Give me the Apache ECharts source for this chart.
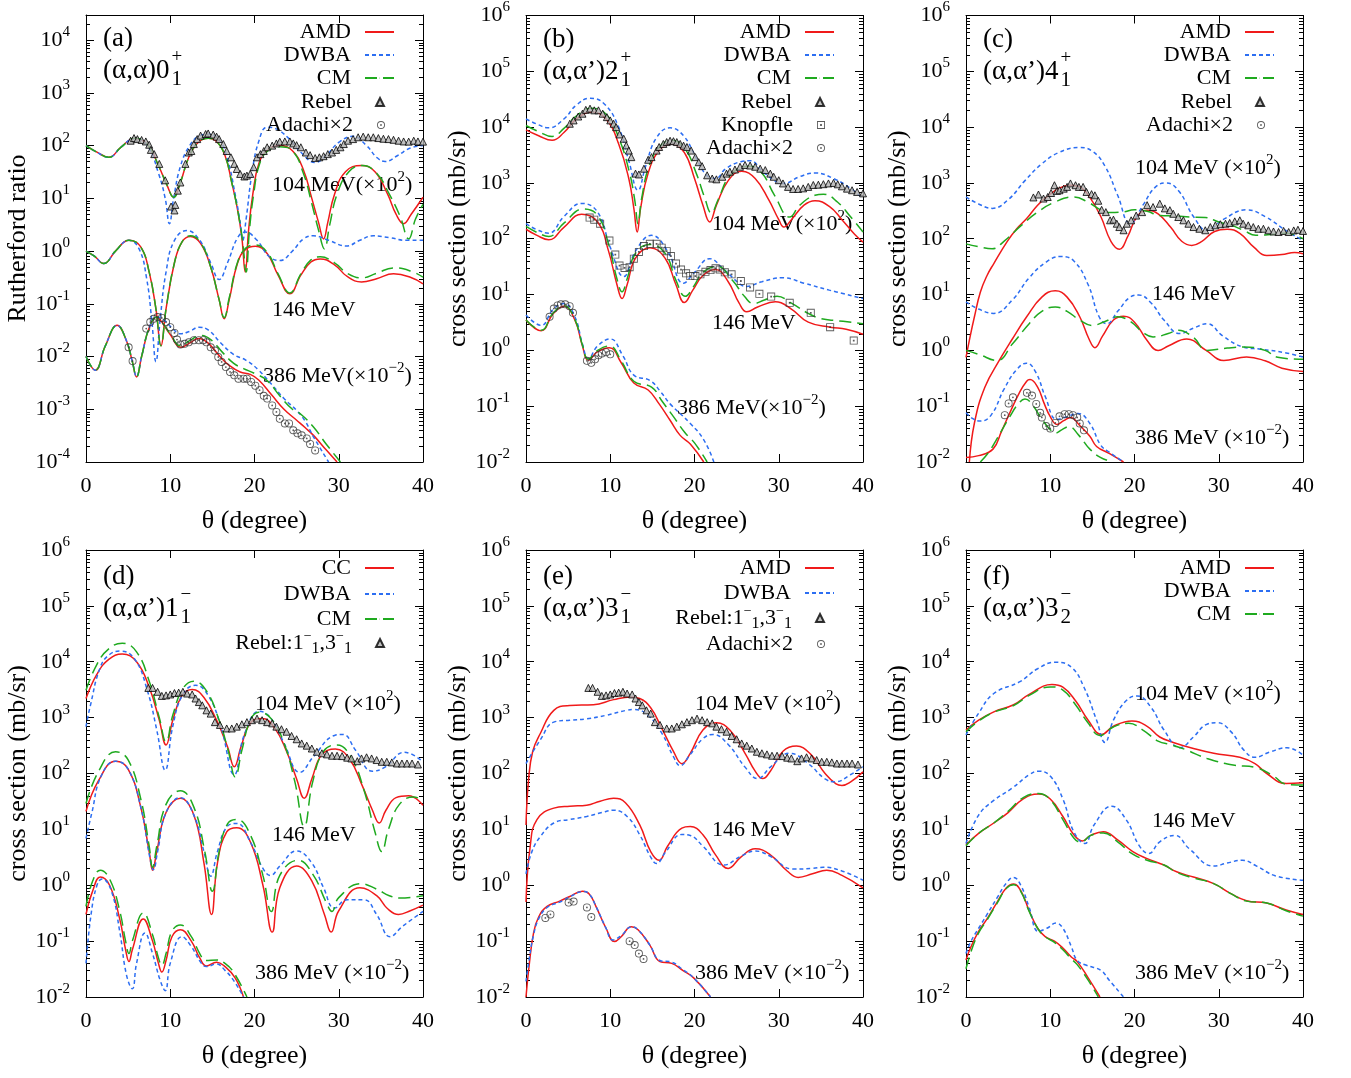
<!DOCTYPE html>
<html>
<head>
<meta charset="utf-8">
<script src="https://cdn.jsdelivr.net/npm/echarts@6/dist/echarts.min.js"></script>
<style>
html, body { margin: 0; padding: 0; background: #fff; }
#main { width: 1351px; height: 1078px; }
</style>
</head>
<body>
<div id="main"></div>
<script>
// ---- data: [theta (deg), value] ----
// (a) elastic, Rutherford ratio
var a104AMD = [[0,100],[1.3,75],[2.7,60],[4.2,95],[5.8,138],[7.3,105],[8.6,42],[9.6,18],[10.4,10.5],[11.2,20],[12.2,60],[13.3,115],[14.5,138],[15.5,120],[16.5,65],[17.3,20],[18,6],[18.5,1.8],[18.9,0.4],[19.3,2.5],[19.8,12],[20.5,45],[21.5,80],[23,100],[24.5,80],[25.8,35],[26.8,10],[27.6,3.5],[28.2,1.7],[28.7,3.5],[29.5,12],[30.8,32],[32.7,42],[34.3,32],[35.8,12],[36.8,5],[37.7,3.3],[38.6,5],[40,10.5]];
var a104CM = [[0,100],[1.3,75],[2.7,60],[4.2,95],[5.8,138],[7.3,105],[8.6,42],[9.6,18],[10.4,10.5],[11.2,20],[12.2,60],[13.3,115],[14.5,138],[15.5,120],[16.5,65],[17.3,20],[18,6],[18.6,1.5],[19,0.4],[19.4,2.5],[19.9,12],[20.6,45],[21.6,80],[23,95],[24.5,80],[25.8,30],[26.8,8],[27.6,2.5],[28.3,1.1],[28.9,3],[29.8,12],[31.2,32],[32.8,42],[34.5,30],[36,12],[37.3,4.5],[38.3,1.7],[39.1,4],[40,7.7]];
var a104DWBA = [[0,100],[1.3,75],[2.7,60],[4.2,95],[5.8,138],[7.3,100],[8.6,30],[9.4,10],[9.9,3.3],[10.4,10],[11.2,40],[12.3,100],[13.5,155],[14.5,165],[15.8,130],[16.8,55],[17.7,12],[18.3,3.5],[18.6,1.6],[19,4],[19.7,30],[20.5,120],[21.5,224],[22.5,210],[24,140],[25.5,75],[27.2,48],[28.5,65],[30,115],[31.7,150],[33.3,100],[34.5,60],[35.5,50],[37,65],[38.5,90],[40,100]];
var a146AMD = [[0,1],[1,0.8],[2.1,0.58],[3.5,1.0],[5.1,1.6],[6.5,1.2],[7.5,0.4],[8.3,0.08],[8.9,0.016],[9.5,0.08],[10.5,0.6],[11.4,1.5],[12.4,1.9],[13.6,1.4],[14.8,0.5],[15.8,0.12],[16.4,0.052],[17,0.12],[18,0.6],[19,1.1],[20.1,1.24],[21.5,0.9],[22.8,0.35],[24.2,0.155],[25.5,0.35],[26.7,0.62],[27.8,0.71],[29.5,0.55],[31,0.33],[32.7,0.26],[34.5,0.3],[36.5,0.37],[38.5,0.32],[40,0.24]];
var a146CM = [[0,1],[1,0.8],[2.1,0.58],[3.5,1.0],[5.1,1.6],[6.5,1.2],[7.5,0.4],[8.3,0.08],[8.9,0.016],[9.5,0.08],[10.5,0.6],[11.4,1.5],[12.4,1.95],[13.6,1.45],[14.8,0.5],[15.8,0.12],[16.4,0.055],[17,0.13],[18,0.62],[19,1.15],[20.1,1.3],[21.5,0.95],[22.8,0.37],[24.2,0.16],[25.5,0.37],[26.7,0.68],[27.8,0.78],[29.5,0.6],[31,0.38],[32.7,0.31],[34.5,0.38],[36.5,0.48],[38.5,0.42],[40,0.32]];
var a146DWBA = [[0,1],[1,0.8],[2.1,0.58],[3.5,1.0],[5.1,1.6],[6.3,1.1],[7.2,0.3],[7.8,0.05],[8.3,0.008],[8.8,0.05],[9.5,0.4],[10.5,1.6],[12,2.45],[13.5,1.6],[14.8,0.6],[15.8,0.29],[16.8,0.6],[18,1.8],[18.9,2.3],[20.3,1.6],[21.7,0.8],[23,0.66],[24.5,1.0],[25.8,1.7],[27,1.95],[28.8,1.6],[30.9,1.25],[32.5,1.6],[34.1,1.95],[36,1.8],[38,1.6],[40,1.6]];
var a386AMD = [[0,0.01],[1.1,0.0055],[2.3,0.016],[3.7,0.039],[4.8,0.02],[5.5,0.008],[6,0.0041],[6.6,0.01],[7.5,0.035],[8.4,0.056],[9,0.045],[10,0.026],[11.3,0.015],[12.3,0.018],[13.4,0.022],[14.5,0.018],[15.9,0.01],[17,0.0068],[18.3,0.0051],[19.5,0.0046],[20.5,0.0036],[22,0.0019],[23.5,0.001],[25,0.00062],[26,0.00045],[27,0.00032],[28.5,0.00017],[29.8,0.0001]];
var a386CM = [[0,0.01],[1.1,0.0055],[2.3,0.016],[3.7,0.039],[4.8,0.02],[5.5,0.008],[6,0.0041],[6.6,0.01],[7.5,0.035],[8.4,0.056],[9,0.045],[10,0.027],[11.2,0.016],[12.3,0.02],[13.6,0.025],[14.8,0.021],[16.2,0.012],[17.5,0.0075],[18.7,0.0059],[20,0.0048],[21.5,0.0035],[23,0.0018],[24.5,0.001],[25.4,0.00083],[27,0.00046],[28.5,0.00022],[30.2,0.0001]];
var a386DWBA = [[0,0.01],[1.1,0.0055],[2.3,0.016],[3.7,0.039],[4.8,0.02],[5.5,0.008],[6,0.0042],[6.6,0.01],[7.5,0.035],[8.4,0.056],[9.2,0.05],[10.2,0.035],[11.2,0.027],[12.3,0.03],[13.4,0.036],[14.5,0.032],[16,0.018],[17.5,0.011],[19,0.0085],[20.5,0.0055],[22,0.003],[23.5,0.0016],[25,0.00095],[26,0.0006],[27,0.0003],[28.8,0.0001]];
var rebelA = [[5.3,124],[5.7,139],[6.1,133],[6.6,128],[7.1,120],[7.5,104],[7.7,83],[8.1,69],[8.7,45],[9.4,22],[10.1,7],[10.5,5.9],[10.6,7.5],[10.9,14],[11.2,20],[11.8,45],[12.2,74],[12.5,79],[12.8,107],[13.2,133],[13.6,155],[14.2,166],[14.5,170],[15.1,162],[15.5,148],[15.8,133],[16.3,107],[16.7,79],[17.2,60],[17.6,45],[17.9,36],[18.3,29],[18.8,26],[19.1,27],[19.5,29],[19.9,39],[20.3,60],[20.7,69],[21.1,79],[21.5,93],[22.1,100],[22.6,110],[23.0,119],[23.6,120],[24.2,120],[24.6,110],[25.0,102],[25.5,93],[26.1,74],[26.6,66],[27.2,58],[27.7,60],[28.2,63],[28.7,69],[29.2,74],[29.7,83],[30.2,93],[30.6,107],[31.1,124],[31.7,133],[32.3,144],[32.9,148],[33.5,144],[34.1,144],[34.7,139],[35.3,135],[35.9,133],[36.5,129],[37.1,124],[37.7,120],[38.3,119],[38.9,124],[39.4,120],[40.0,119]];
var adachiA = [[5.06,0.015],[5.53,0.0082],[7.15,0.034],[7.63,0.045],[8.02,0.052],[8.5,0.056],[9.0,0.054],[9.5,0.045],[10.0,0.036],[10.5,0.028],[10.8,0.021],[11.2,0.017],[11.7,0.0174],[12.2,0.0186],[12.8,0.0204],[13.4,0.0204],[13.9,0.0204],[14.3,0.0186],[14.8,0.015],[15.3,0.013],[15.7,0.0098],[16.1,0.0079],[16.6,0.0063],[17.1,0.0051],[17.6,0.0044],[18.1,0.0038],[18.7,0.0038],[19.1,0.0038],[19.6,0.0033],[20.1,0.0028],[20.6,0.0023],[21.1,0.0018],[21.5,0.0016],[22.1,0.00118],[22.6,0.00089],[23.0,0.00066],[23.6,0.00054],[24.1,0.00054],[24.6,0.0004],[25.1,0.00035],[25.6,0.00032],[26.2,0.00028],[26.6,0.00022],[27.2,0.000166]];

// (b) 2+1, mb/sr
var b104AMD = [[0,8900],[1.5,7000],[3.1,5800],[4.5,8000],[6,14000],[7.8,18600],[9.5,14000],[11,5000],[12.2,1200],[12.8,350],[13.2,132],[13.6,350],[14.5,1500],[15.8,3800],[17.3,5000],[18.8,3500],[20,1200],[21,400],[21.8,200],[22.6,400],[24,1100],[25.6,1620],[27.2,1200],[28.8,500],[30,220],[30.6,162],[31.5,220],[33,400],[34.3,480],[36,380],[37.5,220],[39,120],[40,87]];
var b104CM = [[0,10700],[1.5,8300],[3.1,6800],[4.5,9500],[6,16000],[7.8,21800],[9.5,17000],[11,6500],[12.3,1500],[12.9,500],[13.3,186],[13.7,500],[14.6,2000],[15.9,4500],[17.3,5800],[18.9,4000],[20.2,1500],[21.2,550],[22,290],[22.8,500],[24.3,1400],[26.5,2000],[28,1500],[29.5,600],[31.3,245],[32.5,400],[34.3,600],[35.3,630],[37,450],[38.5,250],[40,132]];
var b104DWBA = [[0,14000],[1.5,11000],[2.7,9700],[4.5,14000],[6,25000],[7.6,33000],[9.3,26000],[11,10000],[12.2,2500],[13.3,740],[14.2,2000],[15.5,6500],[17.1,9700],[18.7,7000],[20.2,2800],[21.6,1300],[22.5,1200],[23.7,1800],[25.5,2400],[26.6,2500],[28.3,1500],[30.6,980],[32.5,1300],[34.3,1510],[36.5,1200],[38.5,800],[40,525]];
var b146AMD = [[0,148],[1.3,115],[2.7,96],[4.5,160],[6.6,275],[8.5,200],[9.8,60],[10.8,15],[11.4,8.5],[12,15],[13,45],[14.7,69],[16.5,45],[17.8,15],[18.8,7.2],[19.8,12],[21,22],[22.5,28],[24,17],[25.3,7],[26.2,4.9],[27.5,6],[29.6,7.4],[31.5,5.5],[33.5,3.2],[36.1,2.6],[38,2.4],[40,1.95]];
var b146CM = [[0,166],[1.3,130],[2.7,110],[4.5,190],[6.8,340],[8.5,260],[9.8,80],[10.8,19],[11.4,11.2],[12,19],[13,55],[14.7,79],[16.5,55],[17.8,18],[18.9,9.3],[19.9,14],[21,25],[22.7,32],[24.5,18],[26,9],[27,6.9],[28.3,8],[29.8,9.3],[31.5,7],[33.5,4.6],[35,3.7],[37,3.4],[40,3.0]];
var b146DWBA = [[0,186],[1.3,145],[2.7,126],[4.5,250],[6.6,430],[8.5,300],[10,70],[11.6,21],[13,60],[14.9,115],[16.8,60],[18.7,16],[20,25],[21.8,44],[23.5,28],[25.5,15],[26.2,14],[28,17],[30.5,20],[33,16],[36,12],[40,8.5]];
var b386AMD = [[0,3.5],[1.8,2.24],[3.2,4.5],[4.5,6.2],[5.8,3.5],[6.7,1.2],[7.4,0.67],[8.5,0.95],[9.9,1.12],[11.3,0.6],[12.8,0.26],[14.5,0.195],[15.8,0.11],[17.1,0.056],[18.3,0.03],[19.5,0.021],[21.1,0.01]];
var b386CM = [[0,3.5],[1.8,2.3],[3.2,4.6],[4.5,6.3],[5.8,3.6],[6.7,1.25],[7.4,0.7],[8.5,1.0],[9.9,1.2],[11.3,0.65],[12.8,0.28],[14.9,0.22],[16.2,0.12],[17.5,0.065],[18.9,0.033],[20,0.022],[21.5,0.01]];
var b386DWBA = [[0,4.3],[1.8,2.8],[3.2,5.4],[4.5,6.9],[5.8,4],[6.7,1.3],[7.4,0.71],[8.5,1.2],[10,1.6],[11.5,0.8],[12.8,0.36],[14.7,0.29],[16,0.18],[17.1,0.11],[19.5,0.049],[21.1,0.025],[22.3,0.01]];
var rebelB = [[5.2,11500],[5.65,13200],[6.2,15500],[6.7,17400],[7.1,20400],[7.6,21400],[8.1,20000],[8.6,20000],[9.1,17400],[9.6,15100],[10.0,13200],[10.4,11500],[10.7,10000],[11.1,7400],[11.6,6200],[11.9,4700],[12.2,3800],[12.5,2900],[13.0,1470],[13.4,1420],[14.0,1800],[14.5,2600],[14.9,2900],[15.5,3800],[15.8,4400],[16.3,5000],[16.7,5400],[17.1,5700],[17.5,5600],[17.9,5400],[18.3,5000],[18.7,4650],[19.1,4400],[19.6,3800],[20.1,2900],[20.5,2350],[20.9,2000],[21.5,1370],[22.1,1200],[22.6,1160],[23.3,1290],[23.8,1470],[24.2,1590],[24.8,1740],[25.4,1950],[26.0,2100],[26.6,2050],[27.2,1950],[27.8,1800],[28.4,1700],[29.0,1470],[29.4,1290],[30.0,1120],[30.5,980],[31.1,850],[31.7,780],[32.3,780],[32.9,800],[33.5,850],[34.1,920],[34.7,930],[35.3,950],[35.9,980],[36.5,1000],[37.0,945],[37.5,870],[38.1,790],[38.7,740],[39.3,690],[40.0,650]];
var knopfleB = [[7.55,240],[8.1,220],[8.8,186],[9.9,93],[10.6,52],[11.1,33],[11.7,30],[12.3,31],[12.8,44],[13.4,58],[14.0,74],[14.7,81],[15.5,81],[16.1,69],[16.7,60],[17.2,49],[17.8,36],[18.4,28],[19.0,24],[19.5,21.5],[20.1,21.5],[20.7,23],[21.3,25.5],[21.9,27.5],[22.5,29.5],[23.0,28],[23.6,25],[24.4,23],[25.5,17.5],[26.6,13.4],[27.7,10.3],[29.1,9.2],[31.3,7.1],[33.8,4.7],[36.1,2.6],[38.9,1.5]];
var adachiB = [[2.8,4.0],[3.3,5.6],[3.75,6.4],[4.15,6.7],[4.66,6.7],[5.18,6.2],[5.57,4.7],[7.23,0.65],[7.75,0.6],[8.2,0.69],[8.6,0.82],[9.0,0.88],[9.5,0.93],[10.0,0.85]];

// (c) 4+1
var c104AMD = [[0,0.75],[0.5,1.8],[1,4],[1.7,11],[2.5,22],[3.3,36],[4.9,90],[6,150],[7.2,230],[8.5,400],[9.6,560],[11,800],[12.4,910],[13.5,850],[14.7,550],[16,250],[17.2,90],[18.2,65],[19.2,110],[20.3,250],[21.5,325],[22.8,280],[24.3,160],[25.6,90],[26.8,76],[28,90],[29.5,135],[31,148],[32.5,125],[34.2,70],[35.7,50],[37.5,52],[39,57],[40,54]];
var c104CM = [[0,81],[1.5,72],[3.1,66],[4.5,90],[6.5,170],[8.5,300],[10.5,450],[12.8,560],[14.5,450],[16,330],[17.1,295],[18.5,300],[20,330],[21.5,310],[23,260],[25,255],[26.5,245],[28.4,240],[30,200],[31.5,174],[33,140],[34.4,115],[36.5,120],[38,126],[40,100]];
var c104DWBA = [[0,560],[1.5,420],[3.1,350],[5,500],[7,1100],[9,2200],[11,3500],[13.4,4300],[15,3700],[16.5,2000],[18,600],[19.5,186],[21,400],[22.5,850],[23.8,1000],[25.3,700],[27,250],[28.6,142],[30.5,220],[33.3,330],[35.5,250],[38,140],[40,93]];
var c146AMD = [[0.4,0.01],[1,0.05],[2.25,0.22],[4,0.68],[5.5,1.6],[7.2,4],[9,9],[10.6,11.7],[12,9],[13.5,4],[14.6,1.6],[15.3,1.12],[16.2,1.8],[17.5,3.5],[18.7,4.1],[20,3.2],[21.5,1.5],[22.8,1.0],[24,1.2],[26.2,1.6],[28.5,1.0],[30.6,0.66],[33.3,0.76],[35.5,0.65],[37.5,0.48],[40,0.42]];
var c146CM = [[0,1.0],[1.5,0.85],[3.7,0.66],[5.5,1.3],[7.5,3],[9,5],[10.6,6],[12,5],[13.5,3.5],[15,2.8],[16.5,3.3],[18,4],[19.5,3.3],[21,2.1],[22.2,1.74],[24,2],[25.2,2.3],[27,1.7],[28.6,1.0],[31,1.1],[33,1.15],[35.5,1.0],[37,0.75],[40,0.69]];
var c146DWBA = [[0,7.4],[1.5,5.5],[3.3,4.6],[5.5,8],[7.5,20],[9.5,38],[11.2,48],[12.8,40],[14.5,15],[15.8,4],[16.7,3.0],[18,5],[19.5,9],[20.5,9.8],[22,7],[23.5,3.5],[25.4,2.0],[27,2.5],[28.6,3.0],[30.5,1.8],[32.9,1.15],[35,1.05],[38,0.9],[40,0.76]];
var c386AMD = [[0,0.012],[1.5,0.013],[3.2,0.017],[4.2,0.035],[5.2,0.076],[6.3,0.17],[7.2,0.28],[7.6,0.3],[8.5,0.22],[9.3,0.11],[10,0.065],[10.8,0.047],[11.6,0.055],[12.4,0.063],[13.5,0.045],[14.7,0.029],[15.5,0.019],[17.1,0.014],[18.7,0.01]];
var c386CM = [[1.7,0.01],[2.7,0.015],[3.6,0.025],[5.2,0.065],[6.2,0.11],[7.0,0.135],[8,0.1],[8.8,0.065],[10,0.038],[10.6,0.033],[11.4,0.038],[12.2,0.043],[13.4,0.03],[14.7,0.017],[16,0.012],[17.4,0.01]];
var c386DWBA = [[0,0.076],[0.8,0.06],[1.7,0.054],[3,0.07],[4.5,0.2],[6,0.45],[7.2,0.59],[8.3,0.4],[9.4,0.15],[10.8,0.058],[12,0.065],[13.3,0.074],[14.7,0.049],[16,0.02],[17,0.015],[18.7,0.01]];
var rebelC = [[8.0,550],[8.6,620],[9.2,525],[9.7,560],[10.1,660],[10.5,910],[10.8,720],[11.1,740],[11.6,790],[12.0,850],[12.4,980],[13.0,910],[13.4,850],[13.9,850],[14.3,690],[14.9,630],[15.3,600],[15.7,480],[16.1,330],[16.6,300],[17.1,214],[17.5,220],[17.9,186],[18.2,162],[18.7,142],[19.1,186],[19.6,214],[20.2,260],[20.9,300],[21.5,400],[22.2,370],[23.0,425],[23.6,350],[24.2,325],[24.6,280],[25.2,245],[25.8,214],[26.4,186],[27.0,162],[27.7,151],[28.4,142],[29.0,162],[29.6,174],[30.2,182],[30.8,186],[31.3,192],[31.9,205],[32.5,214],[32.9,186],[33.5,174],[34.1,162],[34.7,151],[35.3,151],[35.9,142],[36.5,135],[37.1,132],[37.7,138],[38.3,132],[38.9,141],[39.4,145],[40.0,138]];
var adachiC = [[4.6,0.069],[5.06,0.112],[5.57,0.144],[7.23,0.174],[7.83,0.155],[8.34,0.11],[8.8,0.076],[9.0,0.063],[9.5,0.044],[10.0,0.04],[10.6,0.05],[11.1,0.066],[11.7,0.072],[12.2,0.072],[12.7,0.069],[13.2,0.063],[13.5,0.049],[14.0,0.037]];

// (d) 1-1
var d104CC = [[0,2200],[1.3,6000],[2.7,11000],[4.3,13800],[6,10000],[7.5,3500],[8.7,900],[9.5,325],[10.3,900],[11.4,2500],[12.6,3200],[14,2300],[15.5,900],[16.8,300],[17.6,132],[18.4,300],[19.5,800],[20.9,960],[22.4,650],[23.8,250],[25,80],[25.9,36],[26.8,80],[28,220],[29.6,275],[31.3,180],[32.8,60],[34,22],[34.8,13],[35.6,22],[36.8,37],[38.3,40],[40,27]];
var d104CM = [[0,3100],[1.3,9000],[2.7,17000],[4.3,21500],[6,15000],[7.5,4500],[8.7,1000],[9.5,370],[10.3,1100],[11.5,3300],[12.8,4500],[14.3,3000],[15.8,900],[16.9,250],[17.7,87],[18.5,260],[19.5,900],[20.5,1250],[22,950],[23.5,350],[24.8,70],[25.9,11.3],[26.9,70],[28.2,250],[29.8,325],[31.5,190],[33,50],[34.3,9],[35.1,4],[35.9,10],[37.2,28],[38.9,38],[40,33]];
var d104DWBA = [[0,690],[0.5,1600],[1.7,8000],[2.8,13500],[4.1,15500],[5.8,11000],[7.3,3000],[8.4,600],[9.4,115],[10.3,700],[11.5,2600],[13,3800],[14.5,2500],[16,700],[17.6,95],[18.8,500],[20.6,1300],[22,950],[23.5,350],[25.4,105],[27,200],[29.5,480],[30.5,500],[32,260],[34,110],[35.5,130],[37.8,240],[40,162]];
var d146CC = [[0,21],[1.5,75],[3.5,166],[5,120],[6.5,25],[7.5,4],[7.9,1.86],[8.4,4],[9.5,20],[11.2,36],[12.8,18],[14,2.5],[14.9,0.3],[15.6,2.5],[16.7,9],[17.9,10.7],[19.5,6],[21,1],[22.1,0.145],[23,0.9],[25,2.2],[26.8,1.2],[28.3,0.3],[29.1,0.145],[30,0.35],[32.5,0.9],[34.5,0.65],[35.8,0.38],[37.1,0.3],[38.5,0.35],[40,0.44]];
var d146CM = [[0,29],[1.5,110],[3.5,245],[5,175],[6.5,35],[7.5,5],[7.9,2.1],[8.4,5],[9.5,28],[11.2,49],[12.8,25],[14.1,4],[15,0.78],[15.8,4],[16.8,12.5],[17.9,15],[19.5,8],[21,1.5],[22,0.34],[23,1.5],[25.2,2.8],[27,1.5],[28.5,0.5],[29.2,0.34],[30,0.6],[32.6,1.07],[34.5,0.85],[36,0.65],[37.3,0.59],[40,0.65]];
var d146DWBA = [[0,6.9],[0.7,20],[1.8,90],[3.5,166],[5,120],[6.5,25],[7.6,3],[8,1.9],[8.5,4],[9.5,20],[11.2,37],[12.8,18],[14,4],[14.8,1.45],[15.6,4],[16.7,11],[17.9,12.8],[19.5,6],[21,2],[21.9,1.5],[23,2.2],[25,4.1],[26.8,2.5],[28.2,0.9],[29.5,0.39],[31,0.55],[33,0.55],[34.5,0.3],[36.1,0.12],[37.5,0.18],[40,0.34]];
var d386CC = [[0,0.3],[0.8,0.8],[1.7,1.4],[2.8,1.0],[4,0.25],[4.7,0.07],[5.1,0.043],[5.5,0.07],[6.8,0.25],[7.9,0.1],[8.6,0.04],[9,0.028],[9.5,0.045],[10.2,0.12],[11.2,0.16],[12.5,0.1],[13.5,0.05],[14.3,0.036],[15.5,0.042],[16.5,0.035],[17.7,0.022],[18.7,0.01]];
var d386CM = [[0,0.42],[0.8,1.2],[1.7,1.86],[2.8,1.3],[4,0.35],[4.7,0.1],[5.1,0.06],[5.5,0.1],[6.8,0.32],[7.9,0.13],[8.6,0.05],[9,0.037],[9.5,0.06],[10.2,0.15],[11.2,0.195],[12.5,0.12],[13.5,0.06],[14.2,0.045],[15.6,0.046],[16.5,0.04],[17.5,0.028],[19.1,0.01]];
var d386DWBA = [[0,0.04],[0.6,0.3],[1.3,1.0],[1.9,1.3],[3,0.8],[4,0.15],[4.8,0.025],[5.5,0.014],[6,0.04],[7,0.14],[7.9,0.06],[8.8,0.02],[9.4,0.013],[10,0.04],[11.4,0.12],[12.5,0.08],[13.7,0.04],[14.3,0.035],[15.5,0.039],[16.5,0.03],[17.5,0.02],[18.7,0.01]];
var rebelDE = [[7.4,3400],[7.9,3400],[8.5,2900],[9.0,2450],[9.5,2500],[10.0,2600],[10.5,2750],[11.0,2800],[11.5,2900],[12.0,2700],[12.6,2600],[13.0,2200],[13.4,1900],[13.8,1660],[14.3,1350],[14.8,1180],[15.3,830],[15.9,740],[16.7,640],[17.3,640],[17.9,690],[18.5,760],[19.1,830],[19.7,900],[20.3,960],[20.9,900],[21.5,830],[22.1,790],[22.6,690],[23.2,620],[23.8,560],[24.4,470],[25.0,410],[25.6,345],[26.2,315],[26.8,280],[27.4,245],[28.0,230],[28.6,220],[29.2,208],[29.8,208],[30.4,205],[31.0,192],[31.5,186],[32.2,166],[32.7,186],[33.3,195],[33.9,186],[34.5,174],[35.1,162],[35.7,162],[36.3,158],[36.9,151],[37.5,151],[38.1,151],[38.7,151],[39.4,145]];

// (e) 3-1
var e104AMD = [[0,12],[0.3,76],[0.8,250],[1.7,520],[3.3,1350],[5.2,1650],[8,1700],[10.4,2100],[12.4,2350],[13.5,2200],[14.8,1500],[16,700],[17.5,250],[18.5,150],[19.5,230],[21,600],[22.6,810],[24.2,600],[26,230],[27.2,110],[28.1,81],[29,110],[30.5,250],[32.1,310],[33.8,220],[35.5,100],[36.8,65],[37.5,61],[38.5,70],[40,107]];
var e104DWBA = [[0,150],[1.7,400],[3.3,830],[5.2,900],[7.2,950],[9.5,1100],[11.9,1350],[12.8,1400],[14.5,1100],[16.2,500],[17.5,200],[18.3,138],[19.5,220],[21,420],[22.2,500],[24,330],[26,130],[27.5,81],[29,130],[31.3,230],[33.5,150],[35.5,80],[36.7,71],[38.5,95],[40,132]];
var e146AMD = [[0,0.5],[0.5,5],[1.3,15],[3.3,24],[5.2,26],[7.2,27],[8.8,32],[10.4,36],[11.8,30],[13.5,12],[14.8,4],[15.8,2.8],[16.8,5],[18.5,10.5],[19.5,11.2],[21,8],[22.5,3.5],[24,2.0],[25.5,3.2],[27.2,4.5],[29,3.5],[31,1.8],[32.3,1.38],[34,1.6],[35.7,1.86],[37.5,1.5],[40,0.9]];
var e146DWBA = [[0,1.6],[0.7,4],[1.7,7.4],[3.3,13],[5.2,15],[7.2,17],[9,20],[10.4,22],[12,17],[13.5,8],[14.8,3.2],[15.5,2.45],[16.5,3.8],[18.5,8.1],[19.5,7.8],[21,5],[23.5,2.3],[25.5,3.3],[27.2,4.1],[29,3.3],[31.7,1.95],[34,2.0],[35.3,2.1],[37.5,1.8],[40,1.23]];
var e386AMD = [[0,0.01],[0.4,0.04],[0.9,0.14],[1.5,0.27],[2.5,0.42],[4,0.52],[5.2,0.63],[6.7,0.78],[7.5,0.7],[8.3,0.42],[9.5,0.17],[10.5,0.098],[11.3,0.12],[12.5,0.18],[13.3,0.16],[14.7,0.085],[15.9,0.043],[17.3,0.04],[18.6,0.03],[19.9,0.022],[21.9,0.01]];
var e386DWBA = [[0,0.019],[0.4,0.05],[0.9,0.13],[1.5,0.25],[2.5,0.4],[4,0.5],[5.2,0.62],[6.7,0.77],[7.5,0.7],[8.3,0.42],[9.5,0.17],[10.3,0.105],[11.3,0.125],[12.5,0.18],[13.3,0.16],[14.7,0.085],[15.9,0.045],[17.3,0.042],[18.6,0.031],[19.9,0.022],[21.9,0.01]];
var adachiE = [[2.3,0.26],[2.9,0.3],[5.06,0.49],[5.65,0.51],[7.23,0.40],[7.75,0.27],[12.3,0.1],[12.9,0.085],[13.4,0.06],[13.95,0.048]];

// (f) 3-2
var f104AMD = [[0,600],[1.5,900],[3.3,1270],[5.65,1700],[7.5,2600],[10.2,3900],[11.5,3500],[13,2000],[14.5,900],[16.1,500],[17.5,700],[19.7,870],[21.5,700],[23,450],[24.6,360],[27,280],[29.4,230],[32.5,195],[34.3,150],[35.7,100],[38,66],[40,68]];
var f104CM = [[0,560],[1.5,870],[3.3,1250],[5.65,1650],[7.5,2500],[10,3550],[11.5,3100],[13,1700],[14.5,800],[15.9,480],[17.5,680],[19.3,790],[21,600],[22.8,380],[24.4,325],[26,270],[28.6,186],[31.7,142],[34.5,126],[36.5,90],[38,64],[40,62]];
var f104DWBA = [[0,490],[1.5,1200],[3.3,2700],[6.4,4400],[8.5,7500],[10.6,9800],[12.5,8000],[14,3500],[15.5,900],[16.5,360],[17.5,900],[19,2000],[20.3,2450],[22,1500],[23.5,600],[25.4,290],[27,450],[28.5,750],[29.8,810],[31.5,550],[33,260],[34.3,195],[36,240],[38.1,290],[40,214]];
var f146AMD = [[0,5.3],[1.5,8.5],[3.3,13],[5,20],[6.8,35],[8.6,43],[10,35],[11.5,17],[12.8,8],[13.8,6.2],[14.8,7.8],[16.3,9.1],[18,6.5],[19.8,4],[21.5,3.0],[23.5,2.3],[25,1.74],[27,1.4],[29.4,1.07],[31.5,0.7],[33.3,0.53],[35.7,0.48],[38,0.36],[40,0.3]];
var f146CM = [[0,5.1],[1.5,8.5],[3.3,13],[5,21],[6.8,37],[8.6,44],[10,34],[11.5,15],[12.8,7],[13.6,5.9],[14.8,7.8],[16.3,8.6],[18,6],[19.8,3.6],[21.5,2.8],[23.5,2.3],[25,1.7],[27,1.35],[29.4,1.07],[31.5,0.7],[33.3,0.52],[35.7,0.48],[38,0.35],[40,0.28]];
var f146DWBA = [[0,5.6],[1.5,18],[3.3,33],[5.5,55],[7.5,95],[8.6,110],[10,90],[11.5,35],[12.8,9],[14.1,5.6],[15.2,12],[17.3,26],[19,15],[20.6,5],[21.7,3.7],[23,6],[24.8,7.8],[26.5,4.5],[29.4,2.2],[31,2.5],[32.8,2.8],[34.5,2.2],[36.7,1.48],[40,1.23]];
var f386AMD = [[0,0.046],[0.6,0.08],[1.5,0.15],[2.5,0.25],[3.7,0.5],[4.8,0.9],[5.65,1.05],[6.5,0.8],[7.5,0.35],[8.5,0.17],[9.4,0.12],[10.5,0.1],[11.5,0.075],[12.5,0.052],[13.2,0.043],[14.5,0.022],[15.9,0.01]];
var f386CM = [[0,0.032],[0.6,0.065],[1.5,0.14],[2.5,0.24],[3.7,0.48],[4.8,0.88],[5.65,1.02],[6.5,0.78],[7.5,0.34],[8.5,0.17],[9.4,0.12],[10.5,0.095],[11.5,0.07],[12.5,0.048],[13.2,0.038],[14.5,0.02],[15.7,0.01]];
var f386DWBA = [[0,0.06],[0.6,0.1],[1.5,0.17],[2.5,0.3],[3.7,0.6],[4.8,1.1],[5.65,1.38],[6.5,1.0],[7.5,0.4],[8.6,0.15],[9.6,0.17],[10.7,0.21],[11.5,0.17],[12.5,0.08],[13.2,0.045],[14.3,0.037],[16,0.03],[17,0.02],[18.7,0.01]];

// axis ranges and tick values
var thetaRange = [0, 40];
var thetaStep = 10;
var yRanges = [[1e-4, 3e4], [1e-2, 1e6], [1e-2, 1e6], [1e-2, 1e6], [1e-2, 1e6], [1e-2, 1e6]];
var yNames = ['Rutherford ratio', 'cross section (mb/sr)', 'cross section (mb/sr)', 'cross section (mb/sr)', 'cross section (mb/sr)', 'cross section (mb/sr)'];
var minorSteps = [2, 3, 4, 5, 6, 7, 8, 9];

// ---- layout ----
var FONT = 'Liberation Serif';
var RED = '#f01a1a', BLUE = '#2c6ef2', GREEN = '#1faa1f';
var gridPos = [[86, 15], [526, 15], [966, 15], [86, 550], [526, 550], [966, 550]];
var GW = 337, GH = 447;

var lineStyles = {
    AMD:  {color: RED, type: 'solid'},
    CC:   {color: RED, type: 'solid'},
    DWBA: {color: BLUE, type: [4, 3]},
    CM:   {color: GREEN, type: [12, 6]}
};
var circleDot = 'path://M0 -5A5 5 0 1 1 0 5A5 5 0 1 1 0 -5Z M0 -3.9A3.9 3.9 0 1 0 0 3.9A3.9 3.9 0 1 0 0 -3.9Z M0 -1.1A1.1 1.1 0 1 1 0 1.1A1.1 1.1 0 1 1 0 -1.1Z';
var squareDot = 'path://M-5 -5H5V5H-5Z M-3.9 -3.9V3.9H3.9V-3.9Z M-1.1 -1.1H1.1V1.1H-1.1Z';
var pointStyles = {
    'Rebel':     {symbol: 'triangle', size: 7, style: {color: '#b0b0b0', borderColor: '#000', borderWidth: 1}},
    'Rebel:1,3': {symbol: 'triangle', size: 7, style: {color: '#b0b0b0', borderColor: '#000', borderWidth: 1}},
    'Knopfle':   {symbol: squareDot, size: 8, style: {color: '#333'}},
    'Adachi×2':  {symbol: circleDot, size: 8, style: {color: '#333'}}
};

function curve(p, name, data) {
    var st = lineStyles[name];
    return {
        type: 'line', name: name, xAxisIndex: 2 * p, yAxisIndex: 2 * p,
        data: data, symbol: 'none', smooth: 0.45,
        lineStyle: {color: st.color, width: 1.5, type: st.type},
        itemStyle: {color: st.color}, z: 3, silent: true
    };
}
function points(p, name, data) {
    var st = pointStyles[name];
    return {
        type: 'scatter', name: name, xAxisIndex: 2 * p, yAxisIndex: 2 * p,
        data: data, symbol: st.symbol, symbolSize: st.size,
        itemStyle: st.style, z: 4, silent: true
    };
}
function minorTicks(p) {
    var lo = yRanges[p][0], hi = yRanges[p][1], d = [];
    for (var e = Math.floor(Math.log10(lo)); e <= Math.ceil(Math.log10(hi)); e++) {
        minorSteps.forEach(function (k) {
            var v = k * Math.pow(10, e);
            if (v > lo && v < hi) d.push([0, v]);
        });
    }
    return {
        type: 'custom', xAxisIndex: 2 * p, yAxisIndex: 2 * p, data: d, silent: true, z: 2,
        renderItem: function (params, api) {
            var y = Math.round(api.coord([0, api.value(1)])[1]) + 0.5;
            var cs = params.coordSys;
            return {type: 'group', children: [
                {type: 'line', shape: {x1: cs.x, y1: y, x2: cs.x + 4, y2: y}, style: {stroke: '#000', lineWidth: 1}},
                {type: 'line', shape: {x1: cs.x + cs.width - 4, y1: y, x2: cs.x + cs.width, y2: y}, style: {stroke: '#000', lineWidth: 1}}
            ]};
        }
    };
}

function pow10(v) {
    var e = Math.log10(v), r = Math.round(e);
    if (Math.abs(e - r) > 1e-6) return '';
    return '10{e|' + (r < 0 ? '-' + (-r) : r) + '}';
}

var grids = [], xAxes = [], yAxes = [];
gridPos.forEach(function (g, p) {
    grids.push({left: g[0], top: g[1], width: GW, height: GH});
    var axLine = {onZero: false, lineStyle: {color: '#000', width: 1}};
    var tick = {inside: true, length: 8, lineStyle: {color: '#000', width: 1}};
    xAxes.push({
        gridIndex: p, type: 'value', min: thetaRange[0], max: thetaRange[1], interval: thetaStep,
        position: 'bottom', name: 'θ (degree)', nameLocation: 'middle', nameGap: 46,
        nameTextStyle: {fontFamily: FONT, fontSize: 26, color: '#000'},
        axisLine: axLine, axisTick: tick, splitLine: {show: false},
        axisLabel: {fontFamily: FONT, fontSize: 22, color: '#000', margin: 13}
    });
    xAxes.push({
        gridIndex: p, type: 'value', min: thetaRange[0], max: thetaRange[1], interval: thetaStep,
        position: 'top', axisLine: axLine, axisTick: tick, splitLine: {show: false},
        axisLabel: {show: false}
    });
    yAxes.push({
        gridIndex: p, type: 'log', logBase: 10, min: yRanges[p][0], max: yRanges[p][1], splitNumber: 8,
        position: 'left', name: yNames[p], nameLocation: 'middle', nameRotate: 90, nameGap: 50,
        nameTextStyle: {fontFamily: FONT, fontSize: 26, color: '#000'},
        axisLine: axLine, axisTick: tick, splitLine: {show: false}, minorTick: {show: false},
        axisLabel: {
            fontFamily: FONT, fontSize: 22, color: '#000', margin: 16, formatter: pow10,
            rich: {e: {fontFamily: FONT, fontSize: 15, color: '#000', padding: [0, 0, 16, 0]}}
        }
    });
    yAxes.push({
        gridIndex: p, type: 'log', logBase: 10, min: yRanges[p][0], max: yRanges[p][1], splitNumber: 8,
        position: 'right', axisLine: axLine, axisTick: tick, splitLine: {show: false},
        axisLabel: {show: false}
    });
});

var series = [
    curve(0, 'AMD', a104AMD), curve(0, 'DWBA', a104DWBA), curve(0, 'CM', a104CM),
    curve(0, 'AMD', a146AMD), curve(0, 'DWBA', a146DWBA), curve(0, 'CM', a146CM),
    curve(0, 'AMD', a386AMD), curve(0, 'DWBA', a386DWBA), curve(0, 'CM', a386CM),
    points(0, 'Rebel', rebelA), points(0, 'Adachi×2', adachiA),

    curve(1, 'AMD', b104AMD), curve(1, 'DWBA', b104DWBA), curve(1, 'CM', b104CM),
    curve(1, 'AMD', b146AMD), curve(1, 'DWBA', b146DWBA), curve(1, 'CM', b146CM),
    curve(1, 'AMD', b386AMD), curve(1, 'DWBA', b386DWBA), curve(1, 'CM', b386CM),
    points(1, 'Rebel', rebelB), points(1, 'Knopfle', knopfleB), points(1, 'Adachi×2', adachiB),

    curve(2, 'AMD', c104AMD), curve(2, 'DWBA', c104DWBA), curve(2, 'CM', c104CM),
    curve(2, 'AMD', c146AMD), curve(2, 'DWBA', c146DWBA), curve(2, 'CM', c146CM),
    curve(2, 'AMD', c386AMD), curve(2, 'DWBA', c386DWBA), curve(2, 'CM', c386CM),
    points(2, 'Rebel', rebelC), points(2, 'Adachi×2', adachiC),

    curve(3, 'CC', d104CC), curve(3, 'DWBA', d104DWBA), curve(3, 'CM', d104CM),
    curve(3, 'CC', d146CC), curve(3, 'DWBA', d146DWBA), curve(3, 'CM', d146CM),
    curve(3, 'CC', d386CC), curve(3, 'DWBA', d386DWBA), curve(3, 'CM', d386CM),
    points(3, 'Rebel:1,3', rebelDE),

    curve(4, 'AMD', e104AMD), curve(4, 'DWBA', e104DWBA),
    curve(4, 'AMD', e146AMD), curve(4, 'DWBA', e146DWBA),
    curve(4, 'AMD', e386AMD), curve(4, 'DWBA', e386DWBA),
    points(4, 'Rebel:1,3', rebelDE), points(4, 'Adachi×2', adachiE),

    curve(5, 'AMD', f104AMD), curve(5, 'DWBA', f104DWBA), curve(5, 'CM', f104CM),
    curve(5, 'AMD', f146AMD), curve(5, 'DWBA', f146DWBA), curve(5, 'CM', f146CM),
    curve(5, 'AMD', f386AMD), curve(5, 'DWBA', f386DWBA), curve(5, 'CM', f386CM)
];
for (var p = 0; p < 6; p++) series.push(minorTicks(p));

// legend rows: [name, icon right edge x, row centre y]
var legendRows = [
    ['AMD', 395, 32], ['DWBA', 395, 55], ['CM', 395, 78], ['Rebel', 395, 102], ['Adachi×2', 395, 125],
    ['AMD', 835, 32], ['DWBA', 835, 55], ['CM', 835, 78], ['Rebel', 835, 102], ['Knopfle', 835, 125], ['Adachi×2', 835, 148],
    ['AMD', 1275, 32], ['DWBA', 1275, 55], ['CM', 1275, 78], ['Rebel', 1275, 102], ['Adachi×2', 1275, 125],
    ['CC', 395, 568], ['DWBA', 395, 594], ['CM', 395, 619], ['Rebel:1,3', 395, 645],
    ['AMD', 835, 568], ['DWBA', 835, 593], ['Rebel:1,3', 835, 620], ['Adachi×2', 835, 644],
    ['AMD', 1275, 568], ['DWBA', 1275, 591], ['CM', 1275, 614]
];
var legends = legendRows.map(function (r) {
    var isRich = r[0] === 'Rebel:1,3';
    var isLine = !!lineStyles[r[0]];
    var w = isLine ? 29 : 8;
    // scatter icons sit in the middle of the 29px slot used by the line icons
    var iconRight = isLine ? r[1] : r[1] - 10;
    return {
        data: [r[0]], right: 1351 - iconRight, top: r[2] - (isRich ? 16 : 11.5), padding: 0,
        orient: 'horizontal', align: 'right', selectedMode: false,
        itemWidth: w, itemHeight: isLine ? 1 : 8,
        formatter: function (n) {
            return n === 'Rebel:1,3' ? 'Rebel:1{sp|−}{sb|1},3{sp|−}{sb|1}' : n;
        },
        textStyle: {
            fontFamily: FONT, fontSize: 22, color: '#000', lineHeight: 23,
            padding: [0, isLine ? 9 : 19, 0, 0],
            rich: {
                sp: {fontFamily: FONT, fontSize: 14, color: '#000', padding: [0, 0, 14, 0]},
                sb: {fontFamily: FONT, fontSize: 16, color: '#000', padding: [12, 0, 0, 0]}
            }
        }
    };
});

// ---- text annotations ----
var mctx = document.createElement('canvas').getContext('2d');
function textW(str, size) {
    mctx.font = size + 'px "' + FONT + '"';
    return mctx.measureText(str).width;
}
function txt(x, y, str, size) {
    return {type: 'text', x: x, y: y, silent: true, style: {
        text: str, fontFamily: FONT, fontSize: size, fill: '#000', verticalAlign: 'middle', align: 'left'}};
}
function stacked(x, y, base, sup, sub, size) {
    var w = textW(base, size) + 2;
    return [txt(x, y, base, size), txt(x + w, y - 14, sup, 19), txt(x + w, y + 8, sub, 21)];
}
function energy(x, y, str) {
    return {type: 'text', x: x, y: y, silent: true, style: {
        text: str, fontFamily: FONT, fontSize: 22, fill: '#000', verticalAlign: 'middle', align: 'left',
        rich: {s: {fontFamily: FONT, fontSize: 15, fill: '#000', padding: [0, 0, 16, 0]}}}};
}
var panelTags = [
    ['(a)', '(α,α)0', '+', '1', 103, 39],
    ['(b)', '(α,α’)2', '+', '1', 543, 40],
    ['(c)', '(α,α’)4', '+', '1', 983, 40],
    ['(d)', '(α,α’)1', '−', '1', 103, 577],
    ['(e)', '(α,α’)3', '−', '1', 543, 577],
    ['(f)', '(α,α’)3', '−', '2', 983, 577]
];
var energyTags = [
    ['104 MeV(×10{s|2})', 272, 185], ['146 MeV', 272, 310], ['386 MeV(×10{s|−2})', 263, 376],
    ['104 MeV(×10{s|2})', 712, 224], ['146 MeV', 712, 323], ['386 MeV(×10{s|−2})', 677, 408],
    ['104 MeV (×10{s|2})', 1135, 168], ['146 MeV', 1152, 294], ['386 MeV (×10{s|−2})', 1135, 438],
    ['104 MeV (×10{s|2})', 255, 704], ['146 MeV', 272, 835], ['386 MeV (×10{s|−2})', 255, 973],
    ['104 MeV (×10{s|2})', 695, 704], ['146 MeV', 712, 830], ['386 MeV (×10{s|−2})', 695, 973],
    ['104 MeV (×10{s|2})', 1135, 694], ['146 MeV', 1152, 821], ['386 MeV (×10{s|−2})', 1135, 973]
];
var graphics = [];
panelTags.forEach(function (t) {
    graphics.push(txt(t[4], t[5], t[0], 27));
    graphics = graphics.concat(stacked(t[4], t[5] + 32, t[1], t[2], t[3], 27));
});
energyTags.forEach(function (t) { graphics.push(energy(t[1], t[2], t[0])); });

var chart = echarts.init(document.getElementById('main'));
chart.setOption({
    animation: false,
    backgroundColor: '#fff',
    grid: grids,
    xAxis: xAxes,
    yAxis: yAxes,
    legend: legends,
    graphic: graphics,
    series: series
});
</script>
</body>
</html>
